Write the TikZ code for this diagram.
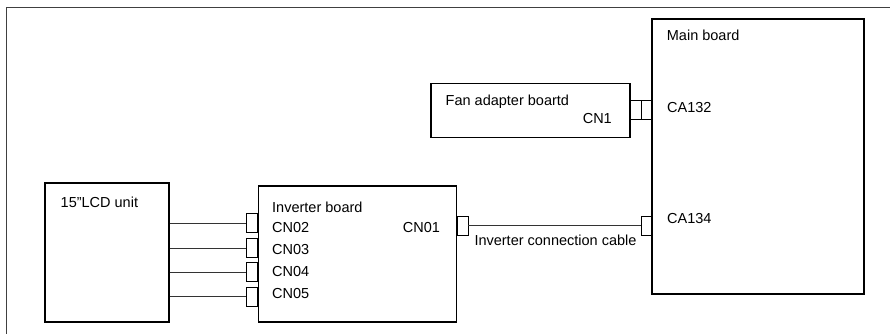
\documentclass[tikz,border=0pt]{standalone}
\usepackage{fontspec}
\setmainfont{Liberation Sans}
\usetikzlibrary{positioning, calc}

\tikzset{
  board/.style={draw, line width=1.3pt, inner sep=0pt},
  plug/.style={draw, line width=0.7pt, inner sep=0pt, minimum width=11pt, minimum height=19pt},
  lbl/.style={inner sep=0pt, anchor=base west, font=\fontsize{14.5}{16}\selectfont},
  wire/.style={line width=1pt, draw=black!80}
}

\begin{document}
\begin{tikzpicture}[x=1pt, y=-1pt]

\useasboundingbox (0, 0) rectangle (890, 334);
\draw [line width=1pt, black!75] (6, 334) -- (6, 8) -- (890, 8);

\node [board, minimum width=124pt, minimum height=139pt] (lcd) at (107, 252.5) {};
\node [board, minimum width=198pt, minimum height=136pt] (inv) at (357.5, 254) {};
\node [board, minimum width=212pt, minimum height=275pt] (main) at (758, 156.5) {};
\node [board, minimum width=199pt, minimum height=54pt] (fan) at (530.5, 110.5) {};

\node [plug] (cn02) at (251.5, 223) {};
\node [plug] (cn03) at (251.5, 248) {};
\node [plug] (cn04) at (251.5, 272) {};
\node [plug] (cn05) at (251.5, 296.5) {};
\node [plug] (cn01) at (462.5, 225.5) {};
\node [plug] (ca134) at (646.5, 225.5) {};
\node [plug] (cn1) at (635.5, 109.5) {};
\node [plug] (ca132) at (646.5, 109.5) {};

\draw [wire] (cn02.west -| lcd.east) -- (cn02.west);
\draw [wire] (cn03.west -| lcd.east) -- (cn03.west);
\draw [wire] (cn04.west -| lcd.east) -- (cn04.west);
\draw [wire] (cn05.west -| lcd.east) -- (cn05.west);
\draw [wire] (cn01.east) -- (ca134.west);

\node [lbl] (lcdname) at (60.5, 207) {15”LCD unit};
\node [lbl] (invname) at (272, 212) {Inverter board};
\node [lbl] (cn02txt) at (272, 232.3) {CN02};
\node [lbl] (cn03txt) at (272, 254) {CN03};
\node [lbl] (cn04txt) at (272, 276) {CN04};
\node [lbl] (cn05txt) at (272, 298) {CN05};
\node [lbl] (cn01txt) at (402.7, 232.3) {CN01};
\node [lbl] (cabletxt) at (474.3, 245.5) {Inverter connection cable};
\node [lbl] (mainname) at (666.7, 41) {Main board};
\node [lbl] (ca132txt) at (667, 113) {CA132};
\node [lbl] (ca134txt) at (667, 223) {CA134};
\node [lbl] (fanname) at (445.5, 105.5) {Fan adapter boartd};
\node [lbl, anchor=base east] (cn1txt) at (612, 123) {CN1};

\end{tikzpicture}
\end{document}
